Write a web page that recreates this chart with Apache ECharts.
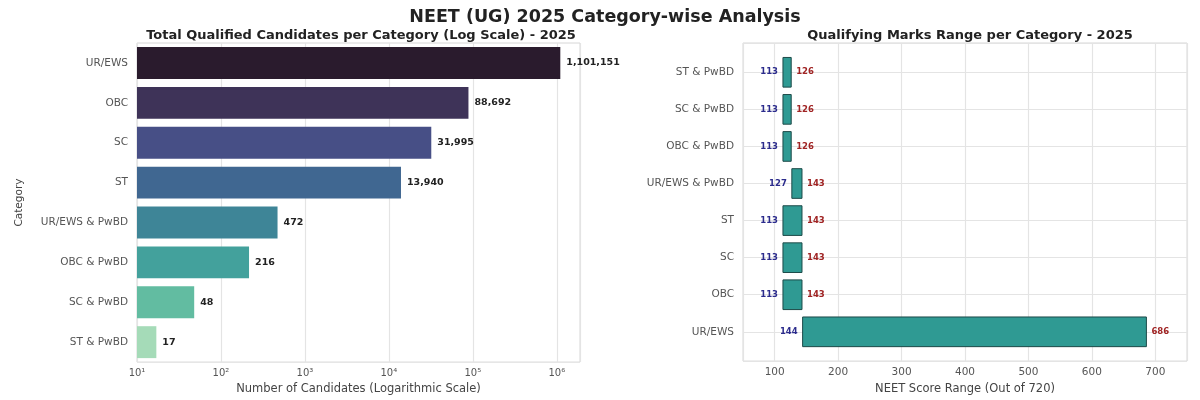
<!DOCTYPE html>
<html>
<head>
<meta charset="utf-8">
<script src="https://cdn.jsdelivr.net/npm/echarts@6/dist/echarts.min.js"></script>
<style>
  html, body { margin: 0; padding: 0; background: #fff; }
  #chart { width: 1200px; height: 400px; }
</style>
</head>
<body>
<div id="chart"></div>
<script>
// left panel: qualified candidates (top -> bottom)
var countCats = ['UR/EWS', 'OBC', 'SC', 'ST', 'UR/EWS & PwBD', 'OBC & PwBD', 'SC & PwBD', 'ST & PwBD'];
var countVals = [1101151, 88692, 31995, 13940, 472, 216, 48, 17];
var countColors = ['#2a1b2d', '#3e3358', '#474f86', '#406791', '#3e8597', '#43a19c', '#62bca1', '#a5dbb8'];
var logTickLabels = ['10¹', '10²', '10³', '10⁴', '10⁵', '10⁶'];

// right panel: qualifying marks range (bottom -> top)
var rangeCats = ['UR/EWS', 'OBC', 'SC', 'ST', 'UR/EWS & PwBD', 'OBC & PwBD', 'SC & PwBD', 'ST & PwBD'];
var minMarks = [144, 113, 113, 113, 127, 113, 113, 113];
var maxMarks = [686, 143, 143, 143, 143, 126, 126, 126];

var FONT = 'DejaVu Sans';
var dom = document.getElementById('chart');
var myChart = echarts.init(dom);

var barData = countVals.map(function (v, i) {
    return { value: v, itemStyle: { color: countColors[i] } };
});
var rangeData = rangeCats.map(function (c, i) {
    return [minMarks[i], maxMarks[i], i];
});

option = {
    backgroundColor: '#fff',
    textStyle: { fontFamily: FONT },
    title: [
        { text: 'NEET (UG) 2025 Category-wise Analysis', left: 600, top: 3, textAlign: 'center',
          textStyle: { fontSize: 17.5, fontWeight: 'bold', color: '#222', fontFamily: FONT } },
        { text: 'Total Qualified Candidates per Category (Log Scale) - 2025', left: 356, top: 24, textAlign: 'center',
          textStyle: { fontSize: 13, fontWeight: 'bold', color: '#222', fontFamily: FONT } },
        { text: 'Qualifying Marks Range per Category - 2025', left: 965, top: 24, textAlign: 'center',
          textStyle: { fontSize: 13, fontWeight: 'bold', color: '#222', fontFamily: FONT } }
    ],
    grid: [
        { left: 137, right: 620, top: 43, bottom: 33, show: true, borderColor: '#d6d6d6', borderWidth: 1 },
        { left: 743, right: 13, top: 43, bottom: 32, show: true, borderColor: '#d6d6d6', borderWidth: 1 }
    ],
    xAxis: [
        {
            gridIndex: 0, type: 'log', logBase: 10, min: 10, max: 1890000,
            name: 'Number of Candidates (Logarithmic Scale)', nameLocation: 'middle', nameGap: 15,
            nameTextStyle: { fontSize: 11.5, color: '#444' },
            axisLine: { show: false }, axisTick: { show: false },
            axisLabel: {
                fontSize: 10, color: '#555', margin: 6, showMaxLabel: false,
                formatter: function (v) {
                    var e = Math.log10(v);
                    if (Math.abs(e - Math.round(e)) > 1e-6) return '';
                    return logTickLabels[Math.round(e) - 1] || '';
                }
            },
            splitLine: { show: true, lineStyle: { color: '#e4e4e4', width: 1.2 } }
        },
        {
            gridIndex: 1, type: 'value', min: 50, max: 750,
            name: 'NEET Score Range (Out of 720)', nameLocation: 'middle', nameGap: 15,
            nameTextStyle: { fontSize: 11.5, color: '#444' },
            axisLine: { show: false }, axisTick: { show: false },
            axisLabel: { fontSize: 10.5, color: '#555', margin: 6, showMinLabel: false, showMaxLabel: false },
            splitLine: { show: true, lineStyle: { color: '#e4e4e4', width: 1.2 } }
        }
    ],
    yAxis: [
        {
            gridIndex: 0, type: 'category', data: countCats, inverse: true,
            name: 'Category', nameLocation: 'middle', nameGap: 112, nameRotate: 90,
            nameTextStyle: { fontSize: 10.5, color: '#444' },
            axisLine: { show: false }, axisTick: { show: false },
            axisLabel: { fontSize: 10.5, color: '#555', margin: 9 },
            splitLine: { show: false }
        },
        {
            gridIndex: 1, type: 'value', min: -0.79, max: 7.79, minInterval: 1, maxInterval: 1,
            axisLine: { show: false }, axisTick: { show: false },
            axisLabel: {
                fontSize: 10.5, color: '#555', margin: 9,
                formatter: function (v) {
                    return Number.isInteger(v) ? (rangeCats[v] || '') : '';
                }
            },
            splitLine: { show: true, lineStyle: { color: '#e4e4e4', width: 1.2 } }
        }
    ],
    series: [
        {
            type: 'bar', xAxisIndex: 0, yAxisIndex: 0,
            barCategoryGap: '20%',
            data: barData,
            label: {
                show: true, position: 'right', distance: 6,
                fontSize: 9.5, fontWeight: 'bold', color: '#222',
                formatter: function (p) { return p.value.toLocaleString('en-US'); }
            }
        },
        {
            type: 'custom', xAxisIndex: 1, yAxisIndex: 1,
            data: rangeData,
            encode: { x: [0, 1], y: 2 },
            renderItem: function (params, api) {
                var lo = api.value(0), hi = api.value(1), idx = api.value(2);
                var p0 = api.coord([lo, idx]);
                var p1 = api.coord([hi, idx]);
                var h = api.size([0, 0.8])[1];
                return {
                    type: 'group',
                    children: [
                        { type: 'rect',
                          shape: { x: p0[0], y: p0[1] - h / 2, width: p1[0] - p0[0], height: h },
                          style: { fill: '#2f9a93', stroke: '#1d4a48', lineWidth: 1 } },
                        { type: 'text',
                          style: { x: p0[0] - 5, y: p0[1], text: String(lo), align: 'right', verticalAlign: 'middle',
                                   fill: '#2b2b8c', font: 'bold 8.5px ' + FONT } },
                        { type: 'text',
                          style: { x: p1[0] + 5, y: p1[1], text: String(hi), align: 'left', verticalAlign: 'middle',
                                   fill: '#a02424', font: 'bold 8.5px ' + FONT } }
                    ]
                };
            }
        }
    ]
};

if (option && typeof option === 'object') {
    myChart.setOption(option, true);
}
</script>
</body>
</html>
